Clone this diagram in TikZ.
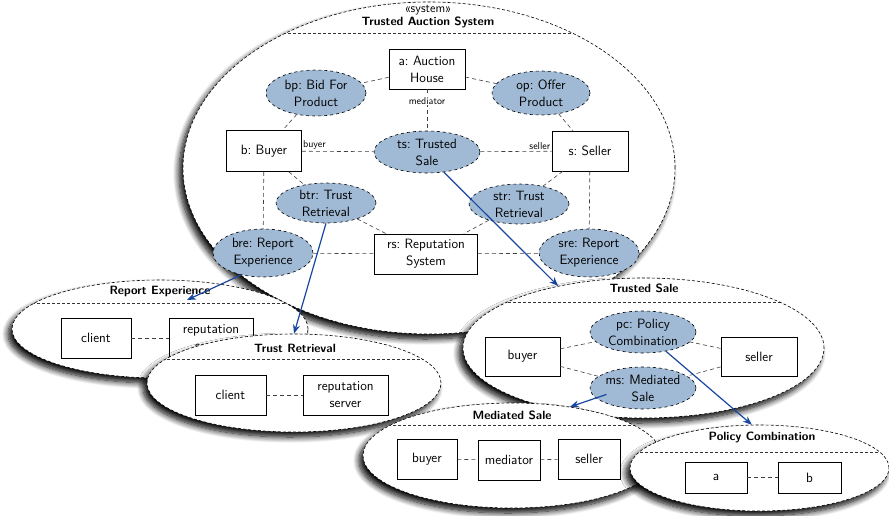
\documentclass[tikz,border=0pt]{standalone}
\usepackage{fontspec}
\usetikzlibrary{shapes.geometric,arrows.meta,shadows.blur,calc}

\definecolor{roleblue}{RGB}{160,185,212}
\definecolor{linkblue}{RGB}{25,70,160}

\tikzset{
  txt/.style={font=\fontsize{13.5}{17}\selectfont\sffamily\frenchspacing, align=center},
  part/.style={txt, rectangle, draw=black, line width=0.7pt, fill=white, inner sep=0pt},
  role/.style={txt, ellipse, draw=black, dashed, line width=0.6pt, fill=roleblue, inner sep=-3pt},
  sepline/.style={draw=black!80, line width=0.6pt, dash pattern=on 3pt off 2pt},
  container/.style={ellipse, draw=black, line width=0.6pt, dash pattern=on 3pt off 2pt,
    fill=white, inner sep=0pt,
    blur shadow={shadow xshift=-4pt, shadow yshift=-5pt, shadow blur radius=6pt,
                 shadow blur steps=10, shadow opacity=100},
    path picture={\draw[sepline] ([yshift=-#1]path picture bounding box.north west)
                                 -- ([yshift=-#1]path picture bounding box.north east);}},
  link/.style={draw=black!75, line width=0.6pt, dash pattern=on 4pt off 3pt},
  bind/.style={draw=linkblue, line width=1.2pt, -{Stealth[length=9pt,width=7pt]}},
  ctitle/.style={font=\fontsize{12}{14}\selectfont\sffamily\bfseries\frenchspacing, inner sep=0pt},
  stereo/.style={font=\fontsize{12.5}{14}\selectfont\sffamily, inner sep=0pt},
  rolelabel/.style={font=\fontsize{10}{12}\selectfont\sffamily, inner sep=1pt},
}

\begin{document}
\begin{tikzpicture}[x=1pt, y=-1pt]
\useasboundingbox (0,0) rectangle (889,515);

% ---------------- Trusted Auction System ----------------
\node[container=31pt, minimum width=492pt, minimum height=332pt] (tas) at (429,168) {};
\node[stereo] (tasStereo) at (428,10) {«system»};
\node[ctitle] (tasTitle) at (428,22) {Trusted Auction System};

\node[part, minimum width=76pt, minimum height=40pt] (house) at (427,69) {a: Auction\\House};
\node[role, minimum width=100pt, minimum height=46pt] (bp) at (316,93) {bp: Bid For\\Product};
\node[role, minimum width=98pt, minimum height=44pt] (op) at (541,93) {op: Offer\\Product};
\node[part, minimum width=75pt, minimum height=41pt] (buyer) at (264,151) {b: Buyer};
\node[role, minimum width=106pt, minimum height=42pt] (ts) at (427,152) {ts: Trusted\\Sale};
\node[part, minimum width=76pt, minimum height=40pt] (seller) at (590,151) {s: Seller};
\node[role, minimum width=100pt, minimum height=40pt] (btr) at (326,203) {btr: Trust\\Retrieval};
\node[role, minimum width=100pt, minimum height=40pt] (str) at (519,204) {str: Trust\\Retrieval};
\node[role, minimum width=100pt, minimum height=48pt] (bre) at (263,253) {bre: Report\\Experience};
\node[part, minimum width=103pt, minimum height=40pt] (rs) at (426,254) {rs: Reputation\\System};
\node[role, minimum width=100pt, minimum height=48pt] (sre) at (589,253) {sre: Report\\Experience};

\draw[link] (house) -- (bp);
\draw[link] (house) -- (op);
\draw[link] (house) -- node[pos=0.28, rolelabel, fill=white] (lblMediator) {mediator} (ts);
\draw[link] (bp) -- (buyer);
\draw[link] (op) -- (seller);
\draw[link] (buyer) -- node[pos=0, anchor=south west, rolelabel] (lblBuyer) {buyer} (ts);
\draw[link] (ts) -- node[pos=1, anchor=south east, rolelabel] (lblSeller) {seller} (seller);
\draw[link] (buyer) -- (btr);
\draw[link] (buyer) -- (bre);
\draw[link] (seller) -- (str);
\draw[link] (seller) -- (sre);
\draw[link] (btr) -- (rs);
\draw[link] (str) -- (rs);
\draw[link] (bre) -- (rs);
\draw[link] (rs) -- (sre);

% ---------------- Report Experience ----------------
\node[container=23pt, minimum width=296pt, minimum height=98pt] (rexp) at (160,329) {};
\node[ctitle] (rexpTitle) at (160,291) {Report Experience};
\coordinate (rexpIn) at (187,300);
\node[part, minimum width=70pt, minimum height=40pt] (reClient) at (96,338) {client};
\node[part, minimum width=84pt, minimum height=40pt] (reServer) at (211,338) {reputation\\server};
\draw[link] (reClient) -- (reServer);

% ---------------- Trust Retrieval ----------------
\node[container=25pt, minimum width=294pt, minimum height=98pt] (tret) at (294,383) {};
\node[ctitle] (tretTitle) at (295,348) {Trust Retrieval};
\node[part, minimum width=71pt, minimum height=40pt] (trClient) at (230.5,395) {client};
\node[part, minimum width=85pt, minimum height=40pt] (trServer) at (345.5,395) {reputation\\server};
\draw[link] (trClient) -- (trServer);

% ---------------- Trusted Sale ----------------
\node[container=24pt, minimum width=361pt, minimum height=140pt] (tsale) at (643.5,348) {};
\node[ctitle] (tsaleTitle) at (644,288) {Trusted Sale};
\node[part, minimum width=75pt, minimum height=39pt] (tsBuyer) at (522.5,356.5) {buyer};
\node[part, minimum width=76pt, minimum height=39pt] (tsSeller) at (759,356.5) {seller};
\node[role, minimum width=106pt, minimum height=42pt] (pc) at (643,332) {pc: Policy\\Combination};
\node[role, minimum width=106pt, minimum height=42pt] (ms) at (643,388) {ms: Mediated\\Sale};
\draw[link] (tsBuyer) -- (pc);
\draw[link] (tsBuyer) -- (ms);
\draw[link] (tsSeller) -- (pc);
\draw[link] (tsSeller) -- (ms);

% ---------------- Mediated Sale ----------------
\node[container=22pt, minimum width=298pt, minimum height=105pt] (msale) at (512,455.5) {};
\node[ctitle] (msaleTitle) at (512,415) {Mediated Sale};
\node[part, minimum width=60pt, minimum height=40pt] (msBuyer) at (427,459) {buyer};
\node[part, minimum width=62pt, minimum height=40pt] (msMediator) at (509,460) {mediator};
\node[part, minimum width=62pt, minimum height=40pt] (msSeller) at (589,459) {seller};
\draw[link] (msBuyer) -- (msMediator);
\draw[link] (msMediator) -- (msSeller);

% ---------------- Policy Combination ----------------
\node[container=27pt, minimum width=259pt, minimum height=86pt] (pcomb) at (759.5,468) {};
\node[ctitle] (pcombTitle) at (762,437) {Policy Combination};
\node[part, minimum width=62pt, minimum height=31pt] (pcA) at (716,477.5) {a};
\node[part, minimum width=63pt, minimum height=31pt] (pcB) at (809.5,477.5) {b};
\draw[link] (pcA) -- (pcB);

% ---------------- refinement arrows ----------------
\draw[bind] (ts.-50) -- (tsale.144);
\draw[bind] (btr.south) -- (tret.north);
\draw[bind] (bre.-135) -- (rexpIn);
\draw[bind] (pc.-40) -- (pcomb.100);
\draw[bind] ($(ms.center)!0.75!(ms.-170)$) -- (msale.40);
\end{tikzpicture}
\end{document}
